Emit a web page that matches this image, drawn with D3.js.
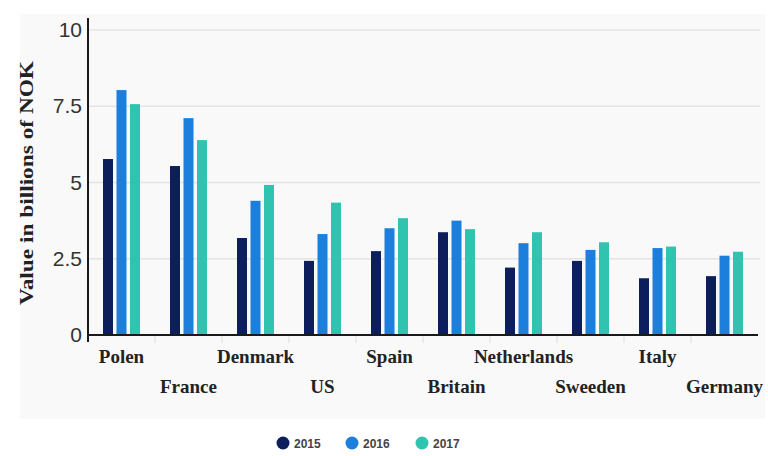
<!DOCTYPE html>
<html><head><meta charset="utf-8">
<script src="https://cdn.jsdelivr.net/npm/d3@7"></script>
<style>
html,body{margin:0;padding:0;background:#fff;}
svg{display:block;}
</style></head>
<body>
<svg id="chart" width="768" height="456"></svg>
<script>
const categories = ["Polen","France","Denmark","US","Spain","Britain","Netherlands","Sweeden","Italy","Germany"];
const years = ["2015","2016","2017"];
const values2015 = [5.77,5.54,3.18,2.43,2.75,3.37,2.21,2.43,1.86,1.93];
const values2016 = [8.03,7.11,4.40,3.31,3.50,3.75,3.01,2.79,2.85,2.60];
const values2017 = [7.57,6.39,4.92,4.34,3.83,3.47,3.37,3.04,2.90,2.73];
const yTicks = [0,2.5,5,7.5,10];
const yTickLabels = ["0","2.5","5","7.5","10"];
const colors = ["#0c1f5c","#1c7fdc","#30c3b0"];
const seriesValues = [values2015, values2016, values2017];

(function(){
const svg = d3.select("#chart");
const W = 768, H = 456;
const pLeft = 88, pRight = 758, pTop = 30, pBottom = 335;

svg.append("rect").attr("x",0).attr("y",0).attr("width",W).attr("height",H).attr("fill","#fff");
svg.append("rect").attr("x",20).attr("y",14).attr("width",745).attr("height",405).attr("fill","#f9f9f9");

const x0 = d3.scaleBand().domain(categories).range([pLeft,pRight]).paddingInner(0).paddingOuter(0);
const y = d3.scaleLinear().domain([0,10]).range([pBottom,pTop]);
const barW = 10, barGap = 3.5;
const groupW = 3*barW+2*barGap;
const x1 = d3.scaleBand().domain(years).range([0, groupW]).paddingInner(barGap/(barW+barGap)).paddingOuter(0);

// gridlines
svg.append("g").selectAll("line").data(yTicks.filter(d=>d>0)).join("line")
  .attr("x1",pLeft).attr("x2",pRight+2)
  .attr("y1",d=>y(d)).attr("y2",d=>y(d))
  .attr("stroke","#e4e4e4").attr("stroke-width",1.5);

// bars
const data = categories.map((c,i)=>({c, vals: years.map((yr,j)=>({yr, v: seriesValues[j][i], j}))}));
const g = svg.append("g").selectAll("g").data(data).join("g")
  .attr("transform",d=>`translate(${x0(d.c)+x0.bandwidth()/2-groupW/2},0)`);
g.selectAll("rect").data(d=>d.vals).join("rect")
  .attr("x",d=>x1(d.yr)).attr("width",barW)
  .attr("y",d=>y(d.v)).attr("height",d=>y(0)-y(d.v))
  .attr("fill",d=>colors[d.j]);

// faint x ticks at band boundaries
svg.append("g").selectAll("line").data(categories.slice(1)).join("line")
  .attr("x1",d=>x0(d)).attr("x2",d=>x0(d))
  .attr("y1",pBottom+1).attr("y2",pBottom+8)
  .attr("stroke","#ddd").attr("stroke-width",1);

// axes lines
svg.append("line").attr("x1",pLeft).attr("x2",pRight).attr("y1",pBottom).attr("y2",pBottom)
  .attr("stroke","#1a1a1a").attr("stroke-width",2);
svg.append("line").attr("x1",pLeft).attr("x2",pLeft).attr("y1",18).attr("y2",pBottom+7)
  .attr("stroke","#1a1a1a").attr("stroke-width",2);

// y tick labels
svg.append("g").selectAll("text").data(yTicks).join("text")
  .attr("x",82).attr("y",d=>y(d)+7)
  .attr("text-anchor","end")
  .attr("font-family","Liberation Sans, Arial, sans-serif")
  .attr("font-size",21).attr("fill","#333")
  .text((d,i)=>yTickLabels[i]);

// y axis title
svg.append("text")
  .attr("transform","translate(33,183) rotate(-90)")
  .attr("text-anchor","middle")
  .attr("font-family","Liberation Serif, Times New Roman, serif")
  .attr("font-weight","bold").attr("font-size",19).attr("fill","#222")
  .attr("textLength",244).attr("lengthAdjust","spacingAndGlyphs")
  .text("Value in billions of NOK");

// category labels (staggered)
svg.append("g").selectAll("text").data(categories).join("text")
  .attr("x",d=>x0(d)+x0.bandwidth()/2)
  .attr("y",(d,i)=> i%2===0 ? 363 : 393)
  .attr("text-anchor","middle")
  .attr("font-family","Liberation Serif, Times New Roman, serif")
  .attr("font-weight","bold").attr("font-size",19).attr("fill","#222")
  .text(d=>d);

// legend
const legX = [283,352,422];
const leg = svg.append("g").selectAll("g").data(years).join("g")
  .attr("transform",(d,i)=>`translate(${legX[i]},443)`);
leg.append("circle").attr("r",6.5).attr("fill",(d,i)=>colors[i]);
leg.append("text").attr("x",11).attr("y",4.5)
  .attr("font-family","Liberation Sans, Arial, sans-serif")
  .attr("font-weight","bold").attr("font-size",12).attr("fill","#444")
  .text(d=>d);
})();
</script>
</body></html>
